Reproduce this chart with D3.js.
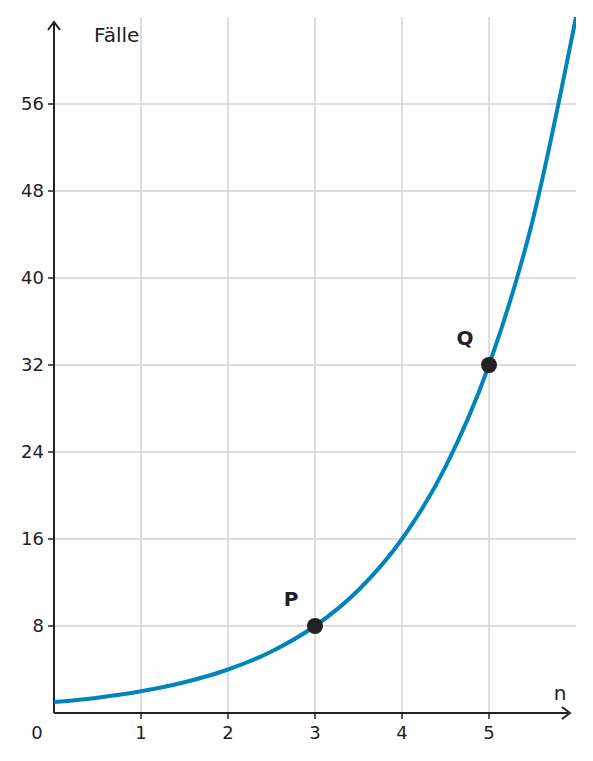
<!DOCTYPE html>
<html><head><meta charset="utf-8">
<script src="https://cdn.jsdelivr.net/npm/d3@7"></script>
<style>body{margin:0;background:#fff}text{font-family:"DejaVu Sans",sans-serif;fill:#222}</style>
</head><body><svg id="c" width="593" height="761"></svg>
<script>
const xTicks = [1,2,3,4,5];
const yTicks = [8,16,24,32,40,48,56];
const curveN = [0,0.5,1,1.5,2,2.5,3,3.5,4,4.5,5,5.5,6];
const curveY = [1,1.41,2,2.83,4,5.66,8,11.31,16,22.63,32,45.25,64];
const pointNames = ["P","Q"];
const pointN = [3,5];
const pointY = [8,32];

const svg = d3.select("#c");
const x = d3.scaleLinear().domain([0,6]).range([54,576]);
const y = d3.scaleLinear().domain([0,64]).range([713,17]);
const g = svg.append("g");
g.selectAll(".vx").data(xTicks).join("line").attr("x1",d=>x(d)).attr("x2",d=>x(d)).attr("y1",y(0)).attr("y2",y(64)).attr("stroke","#d3d3d3").attr("stroke-width",1.5);
g.selectAll(".hy").data(yTicks).join("line").attr("y1",d=>y(d)).attr("y2",d=>y(d)).attr("x1",x(0)).attr("x2",x(6)).attr("stroke","#d3d3d3").attr("stroke-width",1.5);
// axes
svg.append("line").attr("x1",x(0)).attr("x2",568).attr("y1",y(0)).attr("y2",y(0)).attr("stroke","#222").attr("stroke-width",2);
svg.append("line").attr("x1",x(0)).attr("x2",x(0)).attr("y1",y(0)).attr("y2",24).attr("stroke","#222").attr("stroke-width",2);
svg.append("path").attr("d",`M${562},${y(0)-6}L${570},${y(0)}L${562},${y(0)+6}`).attr("fill","none").attr("stroke","#222").attr("stroke-width",2);
svg.append("path").attr("d",`M${x(0)-6},${30}L${x(0)},${22}L${x(0)+6},${30}`).attr("fill","none").attr("stroke","#222").attr("stroke-width",2);
svg.selectAll(".xt").data(xTicks).join("line").attr("x1",d=>x(d)).attr("x2",d=>x(d)).attr("y1",y(0)).attr("y2",y(0)+6).attr("stroke","#222").attr("stroke-width",1.5);
svg.selectAll(".yt").data(yTicks).join("line").attr("y1",d=>y(d)).attr("y2",d=>y(d)).attr("x1",x(0)-6).attr("x2",x(0)).attr("stroke","#222").attr("stroke-width",1.5);
svg.selectAll(".xl").data(xTicks).join("text").attr("x",d=>x(d)).attr("y",739).attr("text-anchor","middle").attr("font-size",18).text(d=>d);
svg.selectAll(".yl").data(yTicks).join("text").attr("x",44).attr("y",d=>y(d)+6).attr("text-anchor","end").attr("font-size",18).text(d=>d);
svg.append("text").attr("x",37).attr("y",739).attr("text-anchor","middle").attr("font-size",18).text("0");
svg.append("text").attr("x",94).attr("y",42).attr("font-size",20).text("Fälle");
svg.append("text").attr("x",560).attr("y",700).attr("text-anchor","middle").attr("font-size",20).text("n");
// curve
svg.append("defs").append("clipPath").attr("id","cp").append("rect").attr("x",x(0)).attr("y",y(64)).attr("width",x(6)-x(0)).attr("height",y(0)-y(64));
const pts = curveN.map((n,i)=>[n,curveY[i]]);
svg.append("path").datum(pts).attr("clip-path","url(#cp)").attr("d",d3.line().x(d=>x(d[0])).y(d=>y(d[1])).curve(d3.curveMonotoneX)).attr("fill","none").attr("stroke","#0085ba").attr("stroke-width",4);
svg.selectAll(".pt").data(pointN).join("circle").attr("cx",d=>x(d)).attr("cy",(d,i)=>y(pointY[i])).attr("r",8).attr("fill","#222");
svg.selectAll(".pl").data(pointNames).join("text").attr("x",(d,i)=>x(pointN[i])-24).attr("y",(d,i)=>y(pointY[i])-20).attr("text-anchor","middle").attr("font-size",20).attr("font-weight","bold").text(d=>d);
</script></body></html>
